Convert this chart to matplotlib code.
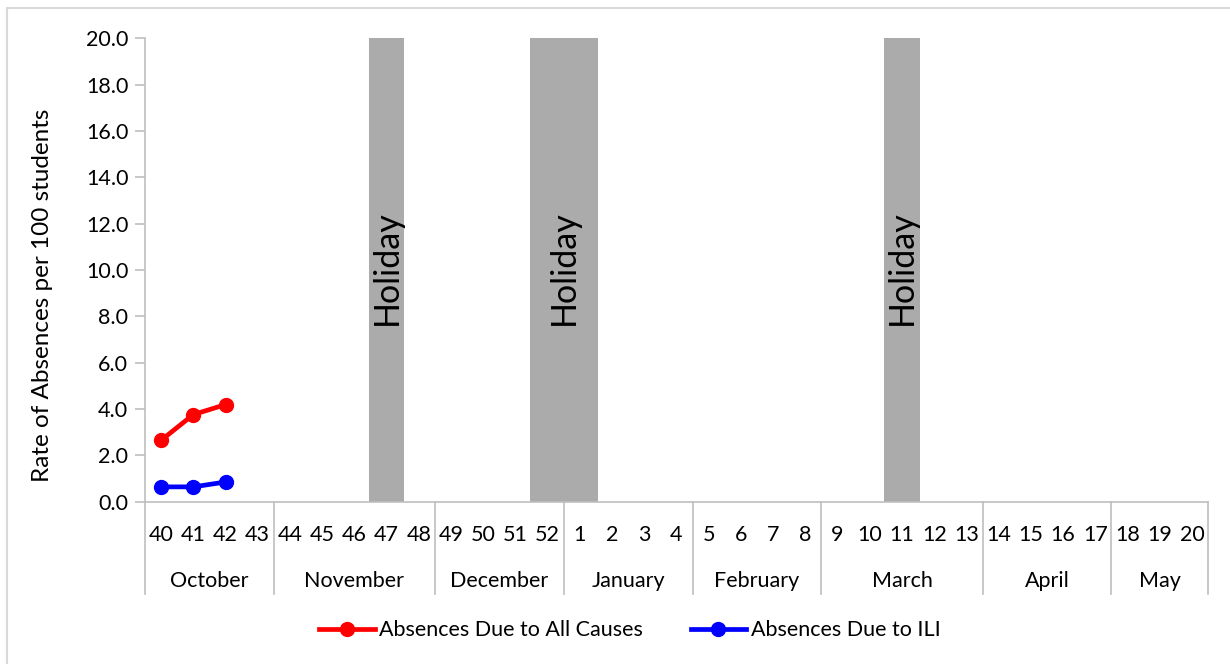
import matplotlib
matplotlib.use('Agg')
import matplotlib.pyplot as plt
import matplotlib.transforms as mtransforms
from matplotlib.patches import Rectangle
import numpy as np

plt.rcParams['font.family'] = ['Lato', 'DejaVu Sans']

weeks = [40, 41, 42, 43, 44, 45, 46, 47, 48, 49, 50, 51, 52,
         1, 2, 3, 4, 5, 6, 7, 8, 9, 10, 11, 12, 13, 14, 15, 16, 17, 18, 19, 20]
months = ['October', 'November', 'December', 'January', 'February', 'March', 'April', 'May']
month_weeks = [4, 5, 4, 4, 4, 5, 4, 3]

all_causes = [2.65, 3.76, 4.19]
ili = [0.64, 0.64, 0.85]

holiday_groups = [[47], [52, 1], [11]]
holiday_height = 20.0
holiday_label_y = 10.1

gray = '#BFBFBF'
fs = 15.5
x = np.arange(len(weeks))

fig = plt.figure(figsize=(12.3, 6.64), dpi=100)
ax = fig.add_axes([145 / 1230, 1 - 501.7 / 664, (1208 - 145) / 1230, (501.7 - 38.3) / 664])

# outer chart border
fig.patches.append(Rectangle((7 / 1230, -0.1), 1.2, 1 - 8 / 664 + 0.1, transform=fig.transFigure,
                             fill=False, edgecolor='#D9D9D9', linewidth=1.5))

# holiday bars
for grp in holiday_groups:
    idx = [weeks.index(w) for w in grp]
    ax.bar(idx, [holiday_height] * len(idx), width=1.1, color='#ABABAB', zorder=1)
    ax.text(np.mean(idx), holiday_label_y, 'Holiday', rotation=90, ha='center', va='center',
            fontsize=24.5, zorder=3)

ax.plot(x[:len(all_causes)], all_causes, color='#FF0000', lw=3.4, marker='o', ms=10,
        label='Absences Due to All Causes', zorder=4)
ax.plot(x[:len(ili)], ili, color='#0000FF', lw=3.4, marker='o', ms=10,
        label='Absences Due to ILI', zorder=4)

ax.set_xlim(-0.5, len(weeks) - 0.5)
ax.set_ylim(0, 20)
ax.set_yticks(np.arange(0, 20.1, 2))
ax.set_yticklabels([f'{v:.1f}' for v in np.arange(0, 20.1, 2)], fontsize=fs)
ax.tick_params(axis='y', length=7, color=gray, width=1.2, pad=5)
ax.set_xticks([])

for s in ['top', 'right']:
    ax.spines[s].set_visible(False)
for s in ['left', 'bottom']:
    ax.spines[s].set_color(gray)
    ax.spines[s].set_linewidth(1.2)

ax.set_ylabel('Rate of Absences per 100 students', fontsize=17.5)
ax.yaxis.set_label_coords(-0.0866, 0.446)

# two-level category axis
trans = mtransforms.blended_transform_factory(ax.transData, ax.transAxes)
for i, w in enumerate(weeks):
    ax.text(i, -0.072, str(w), transform=trans, ha='center', va='center', fontsize=fs)

bounds = np.concatenate([[0], np.cumsum(month_weeks)]) - 0.5
for b in bounds:
    ax.plot([b, b], [0, -0.199], transform=trans, color=gray, lw=1.2, clip_on=False)
for m, lo, hi in zip(months, bounds[:-1], bounds[1:]):
    ax.text((lo + hi) / 2, -0.171, m, transform=trans, ha='center', va='center', fontsize=fs)

fig.legend(loc='center', bbox_to_anchor=(0.512, 0.051), ncol=2, frameon=False, fontsize=fs,
           handlelength=2.6, handletextpad=0.2, columnspacing=2.2)

fig.savefig('out.png', dpi=100)
